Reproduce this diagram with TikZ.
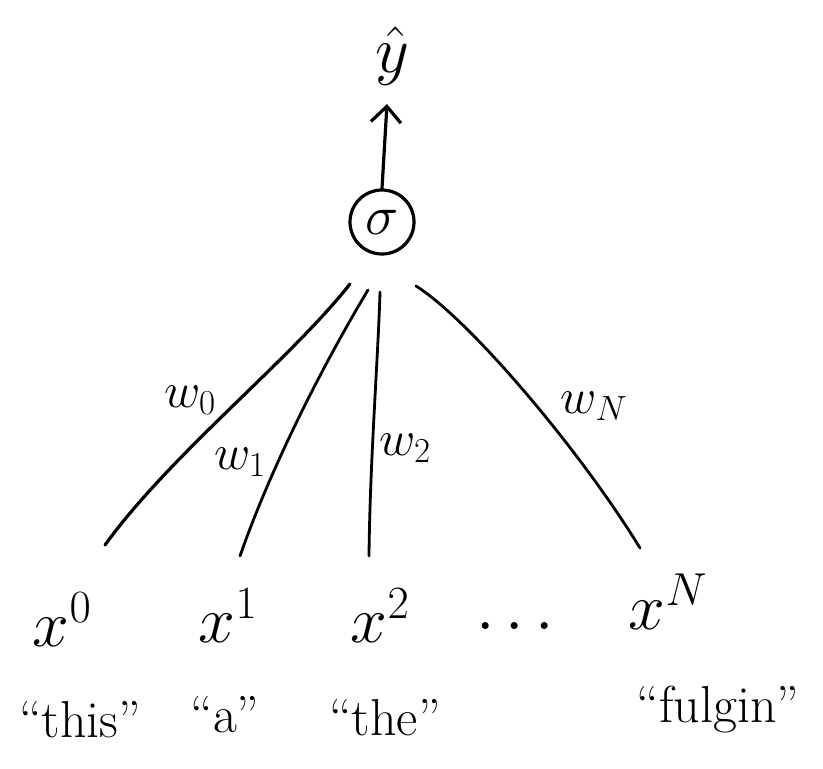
\RequirePackage{fix-cm}
\documentclass[tikz,border=0pt]{standalone}
\usetikzlibrary{arrows.meta}
\begin{document}
\begin{tikzpicture}[x=1pt,y=-1pt,
  ink/.style={line width=3.2pt,line cap=round,line join=round,black},
  thin ink/.style={line width=2.8pt,line cap=round,black},
  big/.style={font=\fontsize{66}{66}\selectfont, inner sep=0pt},
  wlab/.style={font=\fontsize{50}{50}\selectfont, inner sep=0pt},
  qlab/.style={font=\fontsize{52}{52}\selectfont, inner sep=0pt}]
\useasboundingbox (0,0) rectangle (823,769);
% sigma node
\node[ink,draw,circle,minimum size=64pt,inner sep=0pt,font=\fontsize{56}{56}\selectfont] (s) at (382,222) {$\sigma$};
% output
\node[big] (y) at (392,56) {$\hat{y}$};
\coordinate (ytop) at (387,104);
\draw[ink,-{Straight Barb[length=16pt,width=30pt,line width=3.2pt]}] (s.north) -- (ytop);
% inputs
\node[big] (x0) at (62,620) {$x^{0}$};
\node[big] (x1) at (228,616) {$x^{1}$};
\node[big] (x2) at (380,616) {$x^{2}$};
\node[big] (dots) at (515,628) {$\cdots$};
\node[big] (xN) at (668,602) {$x^{N}$};
% endpoints near sigma
\coordinate (e0) at (350,284);
\coordinate (e1) at (368,290);
\coordinate (e2) at (380,292);
\coordinate (eN) at (416,286);
\coordinate (b0) at (105,545);
\coordinate (b1) at (240,556);
\coordinate (b2) at (369,556);
\coordinate (bN) at (640,548);
\draw[ink] (b0) .. controls (170,455) and (290,360) .. (e0);
\draw[thin ink] (b1) .. controls (270,470) and (320,370) .. (e1);
\draw[thin ink] (b2) .. controls (370,460) and (378,360) .. (e2);
\draw[thin ink] (bN) .. controls (580,450) and (470,320) .. (eN);
% weight labels
\node[wlab] (w0) at (190,400) {$w_{0}$};
\node[wlab] (w1) at (240,462) {$w_{1}$};
\node[wlab] (w2) at (405,448) {$w_{2}$};
\node[wlab] (wN) at (594,406) {$w_{N}$};
% words
\node[qlab] (q0) at (80,720) {``this''};
\node[qlab] (q1) at (225,715) {``a''};
\node[qlab] (q2) at (385,718) {``the''};
\node[qlab] (qN) at (718,710) {``fulgin''};
\end{tikzpicture}
\end{document}
